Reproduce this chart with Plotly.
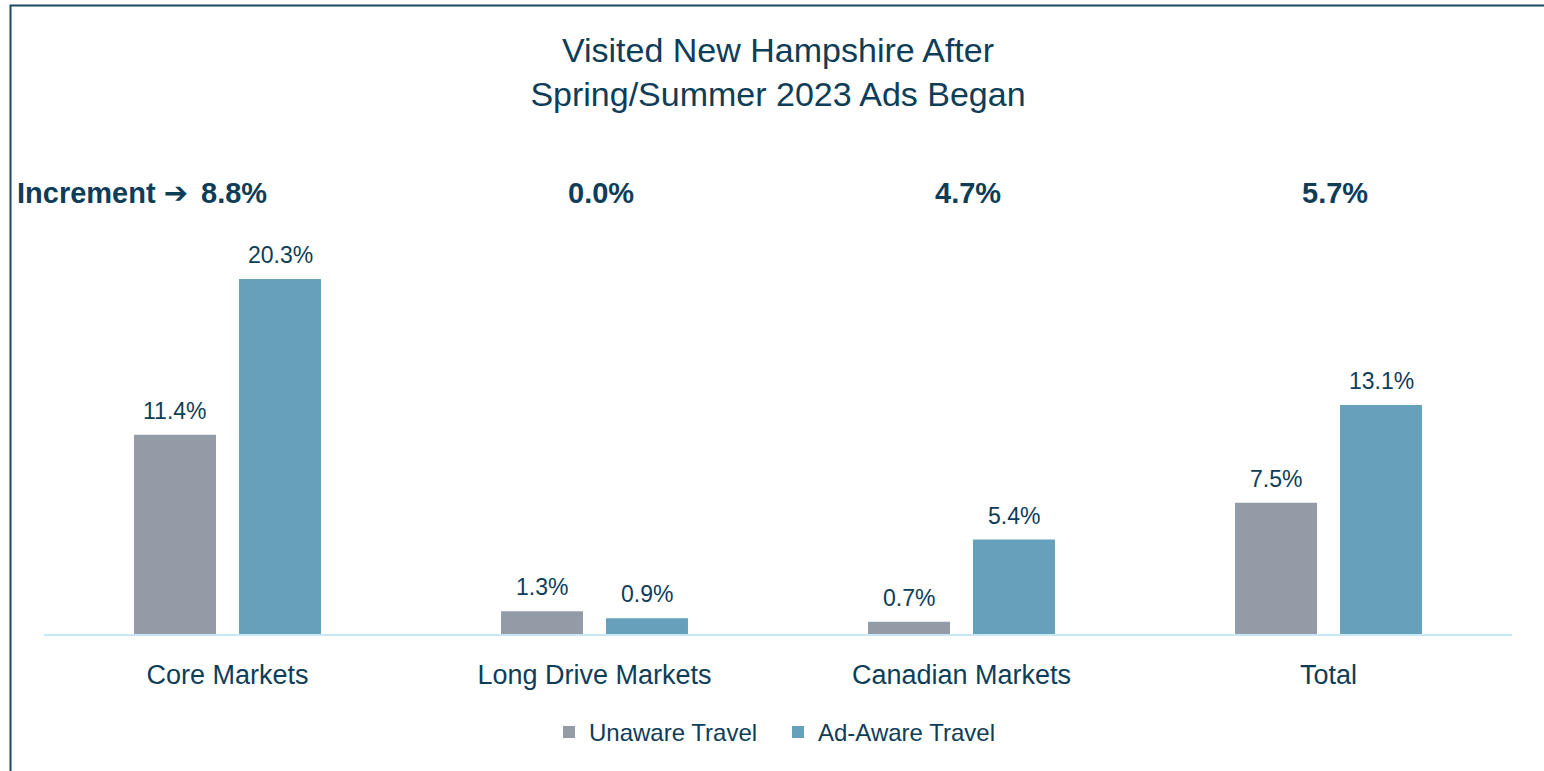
import plotly.graph_objects as go

categories = ["Core Markets", "Long Drive Markets", "Canadian Markets", "Total"]
unaware = [11.4, 1.3, 0.7, 7.5]
ad_aware = [20.3, 0.9, 5.4, 13.1]
increments = ["8.8%", "0.0%", "4.7%", "5.7%"]
series_names = ["Unaware Travel", "Ad-Aware Travel"]
title_lines = ["Visited New Hampshire After", "Spring/Summer 2023 Ads Began"]

FONT = "Liberation Sans, Arial, sans-serif"
TXT = "#0e3d58"
GRAY = "#929ba6"
BLUE = "#66a0bb"

fig = go.Figure()
fig.add_trace(go.Bar(x=categories, y=unaware, name=series_names[0],
                     marker=dict(color=GRAY, line=dict(width=0))))
fig.add_trace(go.Bar(x=categories, y=ad_aware, name=series_names[1],
                     marker=dict(color=BLUE, line=dict(width=0))))

annotations = []
# data labels
for vals, shift in ((unaware, -52.5), (ad_aware, 52.5)):
    for c, v in zip(categories, vals):
        annotations.append(dict(x=c, y=v, xref="x", yref="y", text=f"{v:.1f}%",
                                showarrow=False, xshift=shift, yanchor="bottom", yshift=9,
                                font=dict(family=FONT, size=23, color=TXT)))
# increments
for c, t in zip(categories, increments):
    annotations.append(dict(x=c, y=0.875, xref="x", yref="paper", text=f"<b>{t}</b>",
                            showarrow=False, yanchor="middle", xshift=6,
                            font=dict(family=FONT, size=29, color=TXT)))
annotations.append(dict(x=(15 - 44) / 1468, y=0.875, xref="paper", yref="paper",
                        text="<b>Increment <span style='font-family:DejaVu Sans'>\u2794</span></b>",
                        showarrow=False, xanchor="left", yanchor="middle",
                        font=dict(family=FONT, size=29, color=TXT)))

fig.update_layout(
    width=1544, height=771,
    margin=dict(l=44, r=32, t=130, b=137),
    paper_bgcolor="white", plot_bgcolor="white",
    barmode="group", bargap=0.428, bargroupgap=0.219,
    title=dict(text="<br>".join(title_lines), x=0.5, xref="paper",
               y=1 - 62 / 771, yref="container", xanchor="center", yanchor="middle",
               font=dict(family=FONT, size=34, color=TXT)),
    xaxis=dict(showline=True, linecolor="#c9e8f7", linewidth=2, showgrid=False,
               ticks="outside", ticklen=16, tickcolor="rgba(0,0,0,0)",
               tickfont=dict(family=FONT, size=27, color=TXT)),
    yaxis=dict(range=[0, 28.82], visible=False, showgrid=False, zeroline=False),
    legend=dict(orientation="h", x=0.5, xanchor="center", y=-0.195, yanchor="middle",
                font=dict(family=FONT, size=24, color=TXT), itemwidth=30,
                entrywidth=184, entrywidthmode="pixels",
                traceorder="normal"),
    annotations=annotations,
    shapes=[dict(type="rect", xref="paper", yref="paper",
                 x0=(10.5 - 44) / 1468, x1=1.2, y0=-0.6, y1=(634 - 5.5) / 504,
                 line=dict(color="#1d4a63", width=2), fillcolor="rgba(0,0,0,0)", layer="above")],
    showlegend=True,
)

fig.write_html("out.html", config={"displayModeBar": False},
               post_script="document.body.style.margin='0';")
